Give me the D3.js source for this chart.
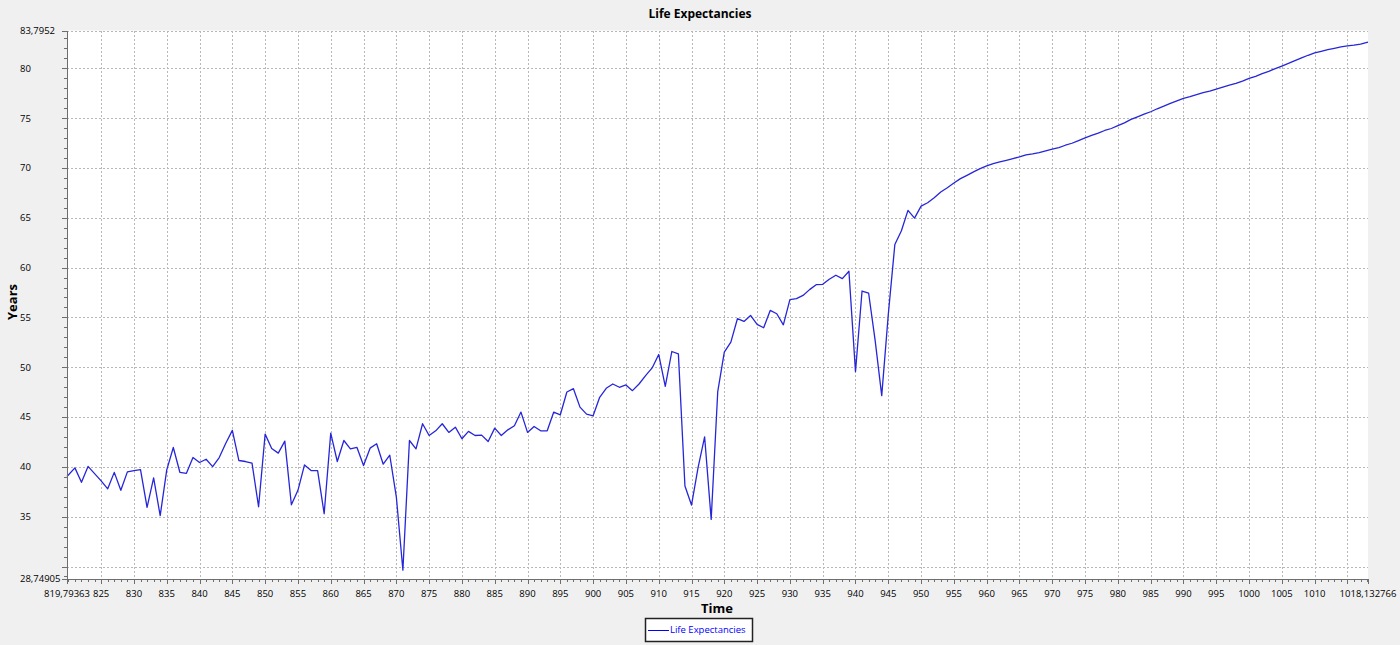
<!DOCTYPE html>
<html>
<head>
<meta charset="utf-8">
<script src="https://cdn.jsdelivr.net/npm/d3@7"></script>
<style>
  html, body { margin: 0; padding: 0; background: #f0f0f0; }
  svg { display: block; }
  text { font-family: "Open Sans", "Noto Sans", sans-serif; }
</style>
</head>
<body>
<svg id="chart" width="1400" height="645"></svg>
<script>
// ---- data ----
const xMin = 819.79363;
const xMax = 1018.132766;
const yMin = 28.74905;
const yMax = 83.7952;

const years = [xMin].concat(d3.range(821, 1018)).concat([xMax]);

const lifeExpectancy = [
  39.03, 39.90, 38.45, 40.05, 39.33, 38.60, 37.80, 39.45, 37.65, 39.50,
  39.63, 39.73, 35.94, 38.89, 35.10, 39.70, 41.95, 39.46, 39.36, 40.94,
  40.44, 40.77, 40.03, 40.94, 42.38, 43.66, 40.64, 40.54, 40.37, 36.00,
  43.29, 41.85, 41.38, 42.58, 36.20, 37.65, 40.20, 39.63, 39.63, 35.30,
  43.39, 40.54, 42.65, 41.81, 41.95, 40.13, 41.88, 42.32, 40.27, 41.17,
  37.00, 29.63, 42.65, 41.81, 44.33, 43.15, 43.62, 44.33, 43.46, 43.99,
  42.82, 43.56, 43.15, 43.19, 42.55, 43.89, 43.15, 43.72, 44.13, 45.50,
  43.46, 44.06, 43.62, 43.62, 45.50, 45.23, 47.52, 47.85, 46.00, 45.30,
  45.13, 46.98, 47.89, 48.32, 47.99, 48.22, 47.65, 48.32, 49.16, 49.93,
  51.28, 48.09, 51.58, 51.34, 38.09, 36.17, 39.93, 43.02, 34.73, 47.55,
  51.51, 52.52, 54.87, 54.60, 55.20, 54.30, 53.96, 55.70, 55.37, 54.26,
  56.78, 56.88, 57.21, 57.79, 58.29, 58.32, 58.83, 59.23, 58.89, 59.63,
  49.56, 57.65, 57.45, 52.68, 47.15, 55.30, 62.32, 63.70, 65.74, 64.97,
  66.17, 66.51, 67.01, 67.58, 68.02, 68.49, 68.93, 69.26, 69.60, 69.93,
  70.20, 70.44, 70.60, 70.77, 70.94, 71.11, 71.31, 71.41, 71.54, 71.71,
  71.88, 72.05, 72.28, 72.48, 72.75, 73.02, 73.26, 73.49, 73.76, 73.96,
  74.25, 74.53, 74.87, 75.13, 75.40, 75.64, 75.94, 76.20, 76.48, 76.74,
  76.98, 77.15, 77.35, 77.55, 77.72, 77.92, 78.12, 78.32, 78.49, 78.72,
  78.99, 79.19, 79.46, 79.70, 79.97, 80.23, 80.50, 80.77, 81.04, 81.31,
  81.54, 81.71, 81.88, 82.01, 82.15, 82.25, 82.32, 82.42, 82.62
];

const xGridTicks = d3.range(825, 1016, 5);
const xLabelTicks = [819.79363].concat(d3.range(825, 1011, 5)).concat([1018.132766]);
const xLabelText = ["819,79363"].concat(d3.range(825, 1011, 5).map(String)).concat(["1018,132766"]);
const yGridTicks = [30, 35, 40, 45, 50, 55, 60, 65, 70, 75, 80, 83.7952];
const yLabelTicks = [28.74905, 35, 40, 45, 50, 55, 60, 65, 70, 75, 80, 83.7952];
const yLabelText = ["28,74905", "35", "40", "45", "50", "55", "60", "65", "70", "75", "80", "83,7952"];

const chartTitle = "Life Expectancies";
const xTitle = "Time";
const yTitle = "Years";
const seriesName = "Life Expectancies";

// ---- layout ----
const L = 67, R = 1368, T = 30.5, B = 579;
const lineColor = "#2626d9";
const tickFont = "9.5px";

const svg = d3.select("#chart");
svg.append("rect").attr("width", 1400).attr("height", 645).attr("fill", "#f0f0f0");

const x = d3.scaleLinear().domain([xMin, xMax]).range([L, R]);
const y = d3.scaleLinear().domain([yMin, yMax]).range([B, T]);

// plot background
svg.append("rect").attr("x", L).attr("y", T).attr("width", R - L).attr("height", B - T).attr("fill", "#ffffff");

// grid
const grid = svg.append("g").attr("stroke", "#b8b8b8").attr("stroke-width", 1).attr("stroke-dasharray", "2,2").attr("shape-rendering", "crispEdges");
grid.selectAll("line.v").data(xGridTicks).enter().append("line")
  .attr("x1", d => Math.round(x(d)) + 0.5).attr("x2", d => Math.round(x(d)) + 0.5)
  .attr("y1", T).attr("y2", B);
grid.selectAll("line.h").data(yGridTicks).enter().append("line")
  .attr("y1", d => Math.round(y(d)) + 0.5).attr("y2", d => Math.round(y(d)) + 0.5)
  .attr("x1", L).attr("x2", R);

// line
const line = d3.line().x((d, i) => x(years[i])).y(d => y(d));
svg.append("path").datum(lifeExpectancy)
  .attr("d", line).attr("fill", "none").attr("stroke", lineColor).attr("stroke-width", 1.3)
  .attr("stroke-linejoin", "round");

// axes
const axisColor = "#6e6e6e";
const ax = svg.append("g").attr("stroke", axisColor).attr("shape-rendering", "crispEdges");
ax.append("line").attr("x1", L + 0.5).attr("x2", L + 0.5).attr("y1", T).attr("y2", B);
ax.append("line").attr("x1", L).attr("x2", R + 1).attr("y1", B + 0.5).attr("y2", B + 0.5);

// x minor ticks (every year)
ax.selectAll("line.xm").data(d3.range(820, 1019)).enter().append("line")
  .attr("x1", d => Math.round(x(d)) + 0.5).attr("x2", d => Math.round(x(d)) + 0.5)
  .attr("y1", B).attr("y2", B + 3);
// x major ticks
ax.selectAll("line.xM").data(xLabelTicks.concat([1015])).enter().append("line")
  .attr("x1", d => Math.round(x(d)) + 0.5).attr("x2", d => Math.round(x(d)) + 0.5)
  .attr("y1", B).attr("y2", B + 5);
// y minor ticks
ax.selectAll("line.ym").data(d3.range(29, 84)).enter().append("line")
  .attr("y1", d => Math.round(y(d)) + 0.5).attr("y2", d => Math.round(y(d)) + 0.5)
  .attr("x1", L - 3).attr("x2", L);
// y major ticks
ax.selectAll("line.yM").data(yLabelTicks.concat([30])).enter().append("line")
  .attr("y1", d => Math.round(y(d)) + 0.5).attr("y2", d => Math.round(y(d)) + 0.5)
  .attr("x1", L - 5).attr("x2", L);

// tick labels
svg.selectAll("text.xl").data(xLabelTicks).enter().append("text")
  .attr("x", d => x(d)).attr("y", 597)
  .attr("text-anchor", "middle").attr("font-size", tickFont).attr("fill", "#000")
  .text((d, i) => xLabelText[i]);
svg.selectAll("text.yl").data(yLabelTicks).enter().append("text")
  .attr("x", 20).attr("y", d => y(d)).attr("dy", "0.36em")
  .attr("text-anchor", "start").attr("font-size", tickFont).attr("fill", "#000")
  .text((d, i) => yLabelText[i]);

// titles
svg.append("text").attr("x", 700).attr("y", 18).attr("text-anchor", "middle")
  .attr("font-size", "12px").attr("font-weight", "bold").text(chartTitle);
svg.append("text").attr("x", 717).attr("y", 613).attr("text-anchor", "middle")
  .attr("font-size", "13px").attr("font-weight", "bold").text(xTitle);
svg.append("text").attr("transform", "translate(17,302) rotate(-90)").attr("text-anchor", "middle")
  .attr("font-size", "13px").attr("font-weight", "bold").text(yTitle);

// legend
const lg = svg.append("g");
lg.append("rect").attr("x", 645.5).attr("y", 618.5).attr("width", 107).attr("height", 23)
  .attr("fill", "#ffffff").attr("stroke", "#222").attr("stroke-width", 1.5);
lg.append("line").attr("x1", 648).attr("x2", 669).attr("y1", 630.5).attr("y2", 630.5)
  .attr("stroke", "#0000ff").attr("stroke-width", 1);
lg.append("text").attr("x", 670).attr("y", 630).attr("dy", "0.36em")
  .attr("font-size", tickFont).attr("fill", "#0000ff").text(seriesName);
</script>
</body>
</html>
